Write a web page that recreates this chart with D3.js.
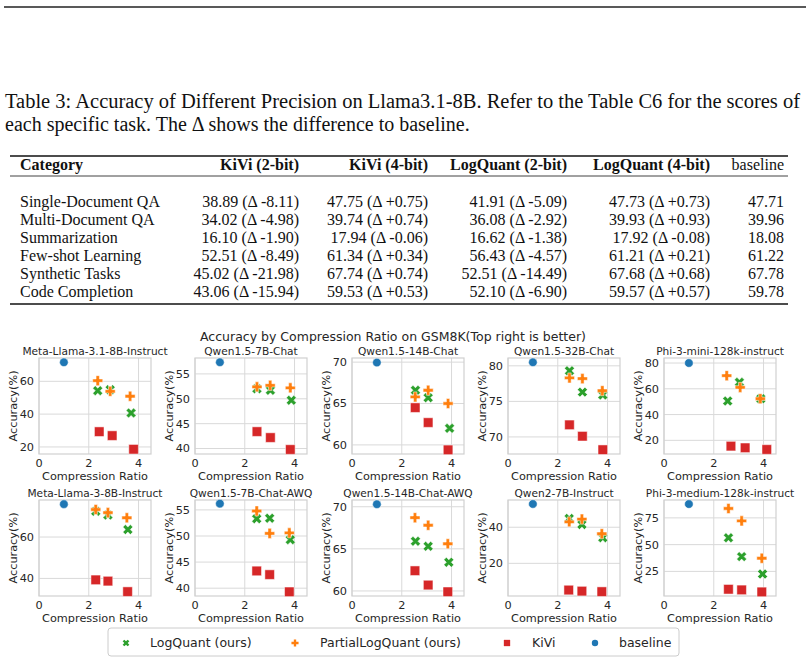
<!DOCTYPE html>
<html lang="en">
<head>
<meta charset="UTF-8">
<title>LogQuant table and GSM8K scatter</title>
<script src="https://d3js.org/d3.v7.min.js"></script>
<style>
  body { margin: 0; background: #fff; }
  svg { display: block; }
  .serif { font-family: "Liberation Serif", "Times New Roman", serif; fill: #111; }
  .sans { font-family: "DejaVu Sans", sans-serif; fill: #262626; }
</style>
</head>
<body>
<div id="chart"></div>
<script>
// ---- table data ----
const categories = ["Single-Document QA", "Multi-Document QA", "Summarization",
  "Few-shot Learning", "Synthetic Tasks", "Code Completion"];
const columns = ["KiVi (2-bit)", "KiVi (4-bit)", "LogQuant (2-bit)", "LogQuant (4-bit)"];
const kivi2 = ["38.89", "34.02", "16.10", "52.51", "45.02", "43.06"];
const kivi2Delta = ["-8.11", "-4.98", "-1.90", "-8.49", "-21.98", "-15.94"];
const kivi4 = ["47.75", "39.74", "17.94", "61.34", "67.74", "59.53"];
const kivi4Delta = ["+0.75", "+0.74", "-0.06", "+0.34", "+0.74", "+0.53"];
const logq2 = ["41.91", "36.08", "16.62", "56.43", "52.51", "52.10"];
const logq2Delta = ["-5.09", "-2.92", "-1.38", "-4.57", "-14.49", "-6.90"];
const logq4 = ["47.73", "39.93", "17.92", "61.21", "67.68", "59.57"];
const logq4Delta = ["+0.73", "+0.93", "-0.08", "+0.21", "+0.68", "+0.57"];
const baselineCol = ["47.71", "39.96", "18.08", "61.22", "67.78", "59.78"];

// ---- scatter data: [compression ratio, accuracy] ----
const models = ["Meta-Llama-3.1-8B-Instruct", "Qwen1.5-7B-Chat", "Qwen1.5-14B-Chat",
  "Qwen1.5-32B-Chat", "Phi-3-mini-128k-instruct", "Meta-Llama-3-8B-Instruct",
  "Qwen1.5-7B-Chat-AWQ", "Qwen1.5-14B-Chat-AWQ", "Qwen2-7B-Instruct", "Phi-3-medium-128k-instruct"];
const logQuant = [
  [[2.36, 54.3], [2.86, 54.9], [3.70, 40.7]],
  [[2.49, 52.0], [3.03, 51.7], [3.87, 49.7]],
  [[2.55, 66.6], [3.06, 65.7], [3.92, 62.0]],
  [[2.47, 79.3], [2.99, 76.3], [3.81, 75.9]],
  [[2.56, 50.5], [3.03, 65.0], [3.89, 52.3]],
  [[2.28, 72.4], [2.77, 70.6], [3.57, 63.6]],
  [[2.48, 53.3], [3.00, 53.4], [3.83, 49.3]],
  [[2.55, 65.9], [3.06, 65.3], [3.89, 63.4]],
  [[2.46, 44.9], [2.97, 41.5], [3.81, 34.2]],
  [[2.59, 56.4], [3.12, 38.8], [3.96, 22.5]]
];
const partialLogQuant = [
  [[2.36, 60.4], [2.86, 53.9], [3.66, 50.9]],
  [[2.49, 52.4], [3.02, 52.7], [3.83, 52.2]],
  [[2.54, 65.8], [3.06, 66.6], [3.86, 65.0]],
  [[2.47, 78.3], [2.99, 78.2], [3.79, 76.5]],
  [[2.52, 70.2], [3.06, 61.1], [3.87, 52.3]],
  [[2.28, 73.3], [2.77, 71.8], [3.53, 69.3]],
  [[2.48, 54.8], [3.00, 50.5], [3.79, 50.6]],
  [[2.53, 68.7], [3.06, 67.8], [3.85, 65.6]],
  [[2.46, 43.0], [2.97, 44.5], [3.77, 36.4]],
  [[2.59, 83.8], [3.12, 72.2], [3.93, 37.3]]
];
const kivi = [
  [[2.42, 29.3], [2.94, 26.9], [3.80, 18.6]],
  [[2.49, 43.4], [3.03, 42.2], [3.83, 39.8]],
  [[2.54, 64.5], [3.06, 62.7], [3.86, 59.4]],
  [[2.47, 71.7], [2.99, 70.1], [3.81, 68.2]],
  [[2.69, 15.5], [3.26, 14.2], [4.13, 12.9]],
  [[2.28, 39.3], [2.77, 38.7], [3.56, 33.6]],
  [[2.48, 43.3], [3.00, 42.6], [3.79, 39.3]],
  [[2.53, 62.4], [3.06, 60.7], [3.85, 59.9]],
  [[2.44, 5.2], [2.97, 4.6], [3.77, 4.3]],
  [[2.59, 8.3], [3.12, 7.7], [3.93, 5.8]]
];
const baseline = [[1.0, 71.6], [1.0, 57.35], [1.0, 69.95], [1.0, 80.5], [1.0, 80.0],
  [1.0, 75.9], [1.0, 56.2], [1.0, 70.3], [1.0, 52.9], [1.0, 87.9]];
const yDomains = [[15.7, 74.2], [38.9, 58.2], [58.9, 70.5], [67.6, 81.1], [9.4, 83.9],
  [31.5, 77.9], [38.5, 56.9], [59.4, 70.8], [1.9, 55.1], [2.0, 91.7]];
const yTicks = [[20, 40, 60], [40, 45, 50, 55], [60, 65, 70], [70, 75, 80], [20, 40, 60, 80],
  [40, 60], [40, 45, 50, 55], [60, 65, 70], [20, 40], [25, 50, 75]];
const xTicks = [0, 2, 4];

const W = 806, H = 659;
const svg = d3.select("#chart").append("svg").attr("width", W).attr("height", H);

// ---------- top of page ----------
svg.append("line").attr("x1", 4).attr("x2", W).attr("y1", 7).attr("y2", 7)
  .attr("stroke", "#222").attr("stroke-width", 1.6);

svg.append("text").attr("class", "serif").attr("x", 5).attr("y", 108)
  .style("font-size", "20px")
  .attr("textLength", 795).attr("lengthAdjust", "spacingAndGlyphs")
  .text("Table 3:  Accuracy of Different Precision on Llama3.1-8B. Refer to the Table C6 for the scores of");
svg.append("text").attr("class", "serif").attr("x", 5).attr("y", 131)
  .style("font-size", "20px")
  .text("each specific task. The \u0394 shows the difference to baseline.");

// ---------- table ----------
const table = svg.append("g");
const tl = 10, tr = 788;
const colRight = [299, 428, 567, 710, 784];
table.append("line").attr("x1", tl).attr("x2", tr).attr("y1", 156).attr("y2", 156)
  .attr("stroke", "#111").attr("stroke-width", 1.3);
table.append("line").attr("x1", tl).attr("x2", tr).attr("y1", 176).attr("y2", 176)
  .attr("stroke", "#111").attr("stroke-width", 0.8);
table.append("line").attr("x1", tl).attr("x2", tr).attr("y1", 304).attr("y2", 304)
  .attr("stroke", "#111").attr("stroke-width", 1.3);

table.append("text").attr("class", "serif").attr("x", 20).attr("y", 170)
  .style("font-size", "16px").style("font-weight", "bold").text("Category");
columns.forEach((c, i) => {
  table.append("text").attr("class", "serif").attr("x", colRight[i]).attr("y", 170)
    .attr("text-anchor", "end").style("font-size", "16px").style("font-weight", "bold").text(c);
});
table.append("text").attr("class", "serif").attr("x", colRight[4]).attr("y", 170)
  .attr("text-anchor", "end").style("font-size", "16px").text("baseline");

const rowY = d3.scalePoint().domain(categories).range([207, 297]);
const cellCols = [[kivi2, kivi2Delta], [kivi4, kivi4Delta], [logq2, logq2Delta], [logq4, logq4Delta]];
categories.forEach((cat, r) => {
  const y = rowY(cat);
  table.append("text").attr("class", "serif").attr("x", 20).attr("y", y)
    .style("font-size", "16px").text(cat);
  cellCols.forEach(([vals, deltas], i) => {
    table.append("text").attr("class", "serif").attr("x", colRight[i]).attr("y", y)
      .attr("text-anchor", "end").style("font-size", "16px").style("white-space", "pre")
      .text(`${vals[r]} (\u0394 ${deltas[r]})`);
  });
  table.append("text").attr("class", "serif").attr("x", colRight[4]).attr("y", y)
    .attr("text-anchor", "end").style("font-size", "16px").text(baselineCol[r]);
});

// ---------- scatter panels ----------
svg.append("text").attr("class", "sans").attr("x", 393).attr("y", 341)
  .attr("text-anchor", "middle").style("font-size", "12.5px")
  .text("Accuracy by Compression Ratio on GSM8K(Top right is better)");

const colLeft = [39, 195, 352, 508, 664];
const rowTop = [358, 500];
const pw = 112, ph = 96;

const green = "#2ca02c", orange = "#ff7f0e", red = "#d62728", blue = "#1f77b4";
const symX = d3.symbol().type(d3.symbolCross).size(62);
const symP = d3.symbol().type(d3.symbolCross).size(56);
const symS = d3.symbol().type(d3.symbolSquare).size(92);
const symC = d3.symbol().type(d3.symbolCircle).size(58);

models.forEach((name, k) => {
  const left = colLeft[k % 5], top = rowTop[Math.floor(k / 5)];
  const g = svg.append("g").attr("transform", `translate(${left},${top})`);
  const x = d3.scaleLinear().domain([0, 4.5]).range([0, pw]);
  const y = d3.scaleLinear().domain(yDomains[k]).range([ph, 0]);

  // grid
  g.selectAll(".gx").data(xTicks).join("line")
    .attr("x1", d => x(d)).attr("x2", d => x(d)).attr("y1", 0).attr("y2", ph)
    .attr("stroke", "#d9d9d9").attr("stroke-width", 1);
  g.selectAll(".gy").data(yTicks[k]).join("line")
    .attr("x1", 0).attr("x2", pw).attr("y1", d => y(d)).attr("y2", d => y(d))
    .attr("stroke", "#d9d9d9").attr("stroke-width", 1);
  g.append("rect").attr("width", pw).attr("height", ph)
    .attr("fill", "none").attr("stroke", "#d0d0d0").attr("stroke-width", 1.2);

  // tick labels
  g.selectAll(".tx").data(xTicks).join("text").attr("class", "sans")
    .attr("x", d => x(d)).attr("y", ph + 13).attr("text-anchor", "middle")
    .style("font-size", "11.3px").text(d => d);
  g.selectAll(".ty").data(yTicks[k]).join("text").attr("class", "sans")
    .attr("x", -5).attr("y", d => y(d)).attr("dy", "0.35em").attr("text-anchor", "end")
    .style("font-size", "11.3px").text(d => d);

  g.append("text").attr("class", "sans").attr("x", pw / 2).attr("y", ph + 26)
    .attr("text-anchor", "middle").style("font-size", "11.3px").text("Compression Ratio");
  g.append("text").attr("class", "sans")
    .attr("transform", `translate(-22,${ph / 2}) rotate(-90)`)
    .attr("text-anchor", "middle").style("font-size", "11.3px").text("Accuracy(%)");
  g.append("text").attr("class", "sans").attr("x", pw / 2).attr("y", -3)
    .attr("text-anchor", "middle").style("font-size", "10.6px").text(name);

  const draw = (pts, sym, color, rot) => {
    g.selectAll(null).data(pts).join("path")
      .attr("d", sym)
      .attr("transform", d => `translate(${x(d[0])},${y(d[1])}) rotate(${rot})`)
      .attr("fill", color).attr("stroke", "#fff").attr("stroke-width", 0.5);
  };
  draw(kivi[k], symS, red, 0);
  draw(logQuant[k], symX, green, 45);
  draw(partialLogQuant[k], symP, orange, 0);
  draw([baseline[k]], symC, blue, 0);
});

// ---------- legend ----------
const legend = svg.append("g");
legend.append("rect").attr("x", 108).attr("y", 628).attr("width", 571).attr("height", 28)
  .attr("rx", 3).attr("fill", "#fff").attr("stroke", "#cccccc").attr("stroke-width", 1);
const legendItems = [
  { label: "LogQuant (ours)", sym: d3.symbol().type(d3.symbolCross).size(28), color: green, rot: 45, mx: 126, tx: 150 },
  { label: "PartialLogQuant (ours)", sym: d3.symbol().type(d3.symbolCross).size(28), color: orange, rot: 0, mx: 295, tx: 320 },
  { label: "KiVi", sym: d3.symbol().type(d3.symbolSquare).size(40), color: red, rot: 0, mx: 507, tx: 532 },
  { label: "baseline", sym: d3.symbol().type(d3.symbolCircle).size(32), color: blue, rot: 0, mx: 595, tx: 619 }
];
legendItems.forEach(it => {
  legend.append("path").attr("d", it.sym)
    .attr("transform", `translate(${it.mx},${643}) rotate(${it.rot})`).attr("fill", it.color);
  legend.append("text").attr("class", "sans").attr("x", it.tx).attr("y", 647)
    .style("font-size", "12.5px").text(it.label);
});
</script>
</body>
</html>
